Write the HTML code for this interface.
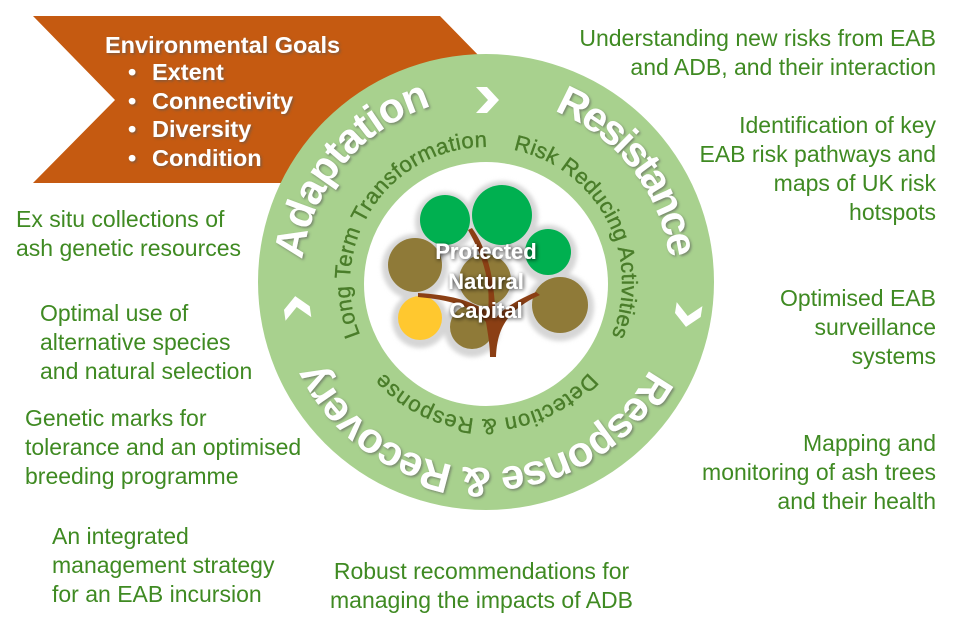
<!DOCTYPE html>
<html><head><meta charset="utf-8"><style>
html,body{margin:0;padding:0;background:#fff;}
body{width:960px;height:640px;position:relative;overflow:hidden;font-family:"Liberation Sans",sans-serif;}
.t{position:absolute;color:#3f8a22;font-size:23px;line-height:29px;white-space:nowrap;}
.r{text-align:right;}
</style></head><body>
<svg width="960" height="640" style="position:absolute;left:0;top:0" xmlns="http://www.w3.org/2000/svg">
<defs>
<filter id="sh" x="-20%" y="-20%" width="140%" height="140%"><feDropShadow dx="1.5" dy="1.5" stdDeviation="1.2" flood-color="#555" flood-opacity="0.6"/></filter>
<filter id="sh2" x="-20%" y="-20%" width="140%" height="140%"><feDropShadow dx="1" dy="1" stdDeviation="2" flood-color="#000" flood-opacity="0.8"/></filter>
<filter id="bl"><feGaussianBlur stdDeviation="2"/></filter>
<path id="outer" d="M303.8,315.1 A185,185 0 1 1 668.2,250.9 A185,185 0 1 1 303.8,315.1"/>
<path id="inner" d="M362.7,340.5 A136,136 0 1 1 609.3,225.5 A136,136 0 1 1 362.7,340.5"/>
</defs>
<polygon points="33,16 440,16 522,100 440,183 33,183 115,100" fill="#c55a11"/>
<g font-family="Liberation Sans, sans-serif" font-weight="bold" fill="#fff" font-size="23.5" filter="url(#sh)">
<text x="105" y="53">Environmental Goals</text>
<text x="128" y="80">•</text><text x="152" y="80">Extent</text>
<text x="128" y="109">•</text><text x="152" y="109">Connectivity</text>
<text x="128" y="137">•</text><text x="152" y="137">Diversity</text>
<text x="128" y="166">•</text><text x="152" y="166">Condition</text>
</g>
<circle cx="486" cy="282" r="228" fill="#a8d18e"/>
<circle cx="486" cy="284" r="122" fill="#fff"/>
<g font-family="Liberation Sans, sans-serif" font-weight="bold" fill="#fff" font-size="42" filter="url(#sh)" text-anchor="middle">
<text><textPath href="#outer" startOffset="13.9%" textLength="212">Adaptation</textPath></text>
<text><textPath href="#outer" startOffset="42.2%" textLength="196">Resistance</textPath></text>
<text><textPath href="#outer" startOffset="78.1%" textLength="410">Response &amp; Recovery</textPath></text>
</g>
<g font-family="Liberation Sans, sans-serif" fill="#4a7d2a" font-size="22" text-anchor="middle" stroke="#4a7d2a" stroke-width="0.4">
<text><textPath href="#inner" startOffset="16.4%" textLength="268">Long Term Transformation</textPath></text>
<text><textPath href="#inner" startOffset="49.2%" textLength="240">Risk Reducing Activities</textPath></text>
<text><textPath href="#inner" startOffset="81.9%" textLength="232">Detection &amp; Response</textPath></text>
</g>
<g fill="#fff">
<polygon points="-10,-13 1,-13 13,0 1,13 -10,13 2,0" transform="translate(486,100)"/>
<polygon points="-10,-13 1,-13 13,0 1,13 -10,13 2,0" transform="translate(688,314) rotate(99)"/>
<polygon points="-10,-13 1,-13 13,0 1,13 -10,13 2,0" transform="translate(297,309) rotate(262)"/>
</g>
<g fill="#d6d6d6" filter="url(#bl)">
<circle cx="445" cy="222" r="30"/><circle cx="502" cy="217" r="36"/><circle cx="548" cy="254" r="29"/>
<circle cx="415" cy="267" r="33"/><circle cx="560" cy="307" r="34"/><circle cx="472" cy="329" r="28"/>
<circle cx="420" cy="320" r="28"/><circle cx="485" cy="282" r="30"/>
</g>
<circle cx="485" cy="280" r="26" fill="#8f7a38"/>
<circle cx="445" cy="220" r="25" fill="#00b050"/>
<circle cx="502" cy="215" r="30" fill="#00b050"/>
<circle cx="548" cy="252" r="23" fill="#00b050"/>
<circle cx="415" cy="265" r="27" fill="#8f7a38"/>
<circle cx="560" cy="305" r="28" fill="#8f7a38"/>
<circle cx="472" cy="327" r="22" fill="#8f7a38"/>
<circle cx="420" cy="318" r="22" fill="#ffc82f"/>
<path d="M490,357 L496,357 C497,335 502,312 540,295 L536,292 C512,302 500,312 496,318 C494,300 495,260 472,228 L468,230 C488,265 490,290 488,312 C470,300 450,295 418,293 L418,297 C450,300 472,306 486,322 C488,335 490,345 490,357 Z" fill="#8b3f14"/>
<g font-family="Liberation Sans, sans-serif" font-weight="bold" fill="#fff" font-size="22" text-anchor="middle" filter="url(#sh2)">
<text x="486" y="259">Protected</text>
<text x="486" y="289">Natural</text>
<text x="486" y="318">Capital</text>
</g>
</svg>
<div class="t r" style="right:24px;top:24px">Understanding new risks from EAB<br>and ADB, and their interaction</div>
<div class="t r" style="right:24px;top:111px">Identification of key<br>EAB risk pathways and<br>maps of UK risk<br>hotspots</div>
<div class="t r" style="right:24px;top:284px">Optimised EAB<br>surveillance<br>systems</div>
<div class="t r" style="right:24px;top:429px">Mapping and<br>monitoring of ash trees<br>and their health</div>
<div class="t" style="left:16px;top:205px">Ex situ collections of<br>ash genetic resources</div>
<div class="t" style="left:40px;top:299px">Optimal use of<br>alternative species<br>and natural selection</div>
<div class="t" style="left:25px;top:404px">Genetic marks for<br>tolerance and an optimised<br>breeding programme</div>
<div class="t" style="left:52px;top:522px">An integrated<br>management strategy<br>for an EAB incursion</div>
<div class="t" style="left:330px;top:557px;text-align:center">Robust recommendations for<br>managing the impacts of ADB</div>
</body></html>
